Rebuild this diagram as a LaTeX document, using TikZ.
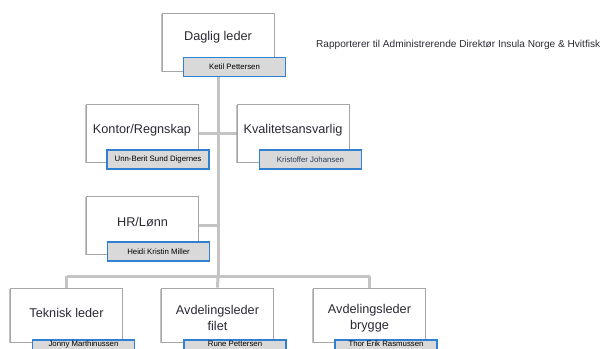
\documentclass[tikz,border=0pt]{standalone}
\usepackage{fontspec}
\setmainfont{Liberation Sans}
\usetikzlibrary{backgrounds,shadows}
\definecolor{connc}{HTML}{C4C4C4}
\definecolor{boxc}{HTML}{A6A6A6}
\definecolor{namefill}{HTML}{D9D9D9}
\definecolor{nameborder}{HTML}{2F80D0}
\definecolor{titlec}{HTML}{2A2A35}
\definecolor{slatec}{HTML}{2C3C58}
\tikzset{
  orgbox/.style={draw=boxc, line width=0.9pt, fill=white, minimum width=112pt, minimum height=58pt, inner sep=0pt,
    drop shadow={shadow xshift=-1.2pt, shadow yshift=-1.2pt, fill=black!40, opacity=0.6}},
  namebox/.style={draw=nameborder, line width=1.4pt, fill=namefill, minimum width=102pt, minimum height=19pt, inner sep=0pt,
    font=\fontsize{7.8}{9}\selectfont},
  topname/.style={namebox, text height=6pt, text depth=13pt},
  titletext/.style={text=titlec, align=center, inner sep=0pt, font=\fontsize{12.7}{15.5}\selectfont},
  conn/.style={draw=connc, line width=3pt},
}
\begin{document}
\begin{tikzpicture}[x=1pt,y=-1pt]
\useasboundingbox (0,0) rectangle (604,348);
\clip (0,0) rectangle (604,348);
% boxes
\node[orgbox] (dl) at (218,42) {};
\node[titletext] (dlt) at (218,37) {Daglig leder};
\node[namebox] (dln) at (234.5,67) {Ketil Pettersen};

\node[orgbox] (kr) at (142,133) {};
\node[titletext] (krt) at (142,130) {Kontor/Regnskap};
\node[namebox] (krn) at (158,159.5) {Unn-Berit Sund Digernes};

\node[orgbox] (kv) at (293,133) {};
\node[titletext] (kvt) at (293,130) {Kvalitetsansvarlig};
\node[namebox, text=slatec] (kvn) at (310.5,159.5) {Kristoffer Johansen};

\node[orgbox] (hr) at (142.5,225) {};
\node[titletext] (hrt) at (142.5,222) {HR/Lønn};
\node[namebox] (hrn) at (158.5,251.5) {Heidi Kristin Miller};

\node[orgbox, minimum height=54pt] (tl) at (66.5,315) {};
\node[titletext] (tlt) at (66.5,313) {Teknisk leder};
\node[topname] (tln) at (83.5,349.5) {Jonny Marthinussen};

\node[orgbox, minimum height=54pt] (af) at (217.5,315) {};
\node[titletext] (aft) at (217.5,318) {Avdelingsleder\\filet};
\node[topname] (afn) at (235,349.5) {Rune Pettersen};

\node[orgbox, minimum height=54pt] (ab) at (369.5,315) {};
\node[titletext] (abt) at (369.5,318) {Avdelingsleder\\brygge};
\node[topname] (abn) at (386,349.5) {Thor Erik Rasmussen};

\node[anchor=west, inner sep=0pt, text=titlec, font=\fontsize{10.1}{12}\selectfont] (rap) at (316,44.5) {Rapporterer til Administrerende Direktør Insula Norge \& Hvitfisk};

\coordinate (busc) at (218,276);
\coordinate (busl) at (66.5,276);
\coordinate (busr) at (369.5,276);
\begin{scope}[on background layer]
\draw[conn] (dl.south) -- (busc);
\draw[conn] (kr.east) -- (kr.east -| busc);
\draw[conn] (kv.west) -- (kv.west -| busc);
\draw[conn] (hr.east) -- (hr.east -| busc);
\draw[conn] (busl) -- (busr);
\draw[conn] (busl) -- (tl.north);
\draw[conn] (busc) -- (af.north);
\draw[conn] (busr) -- (ab.north);
\end{scope}
\end{tikzpicture}
\end{document}
